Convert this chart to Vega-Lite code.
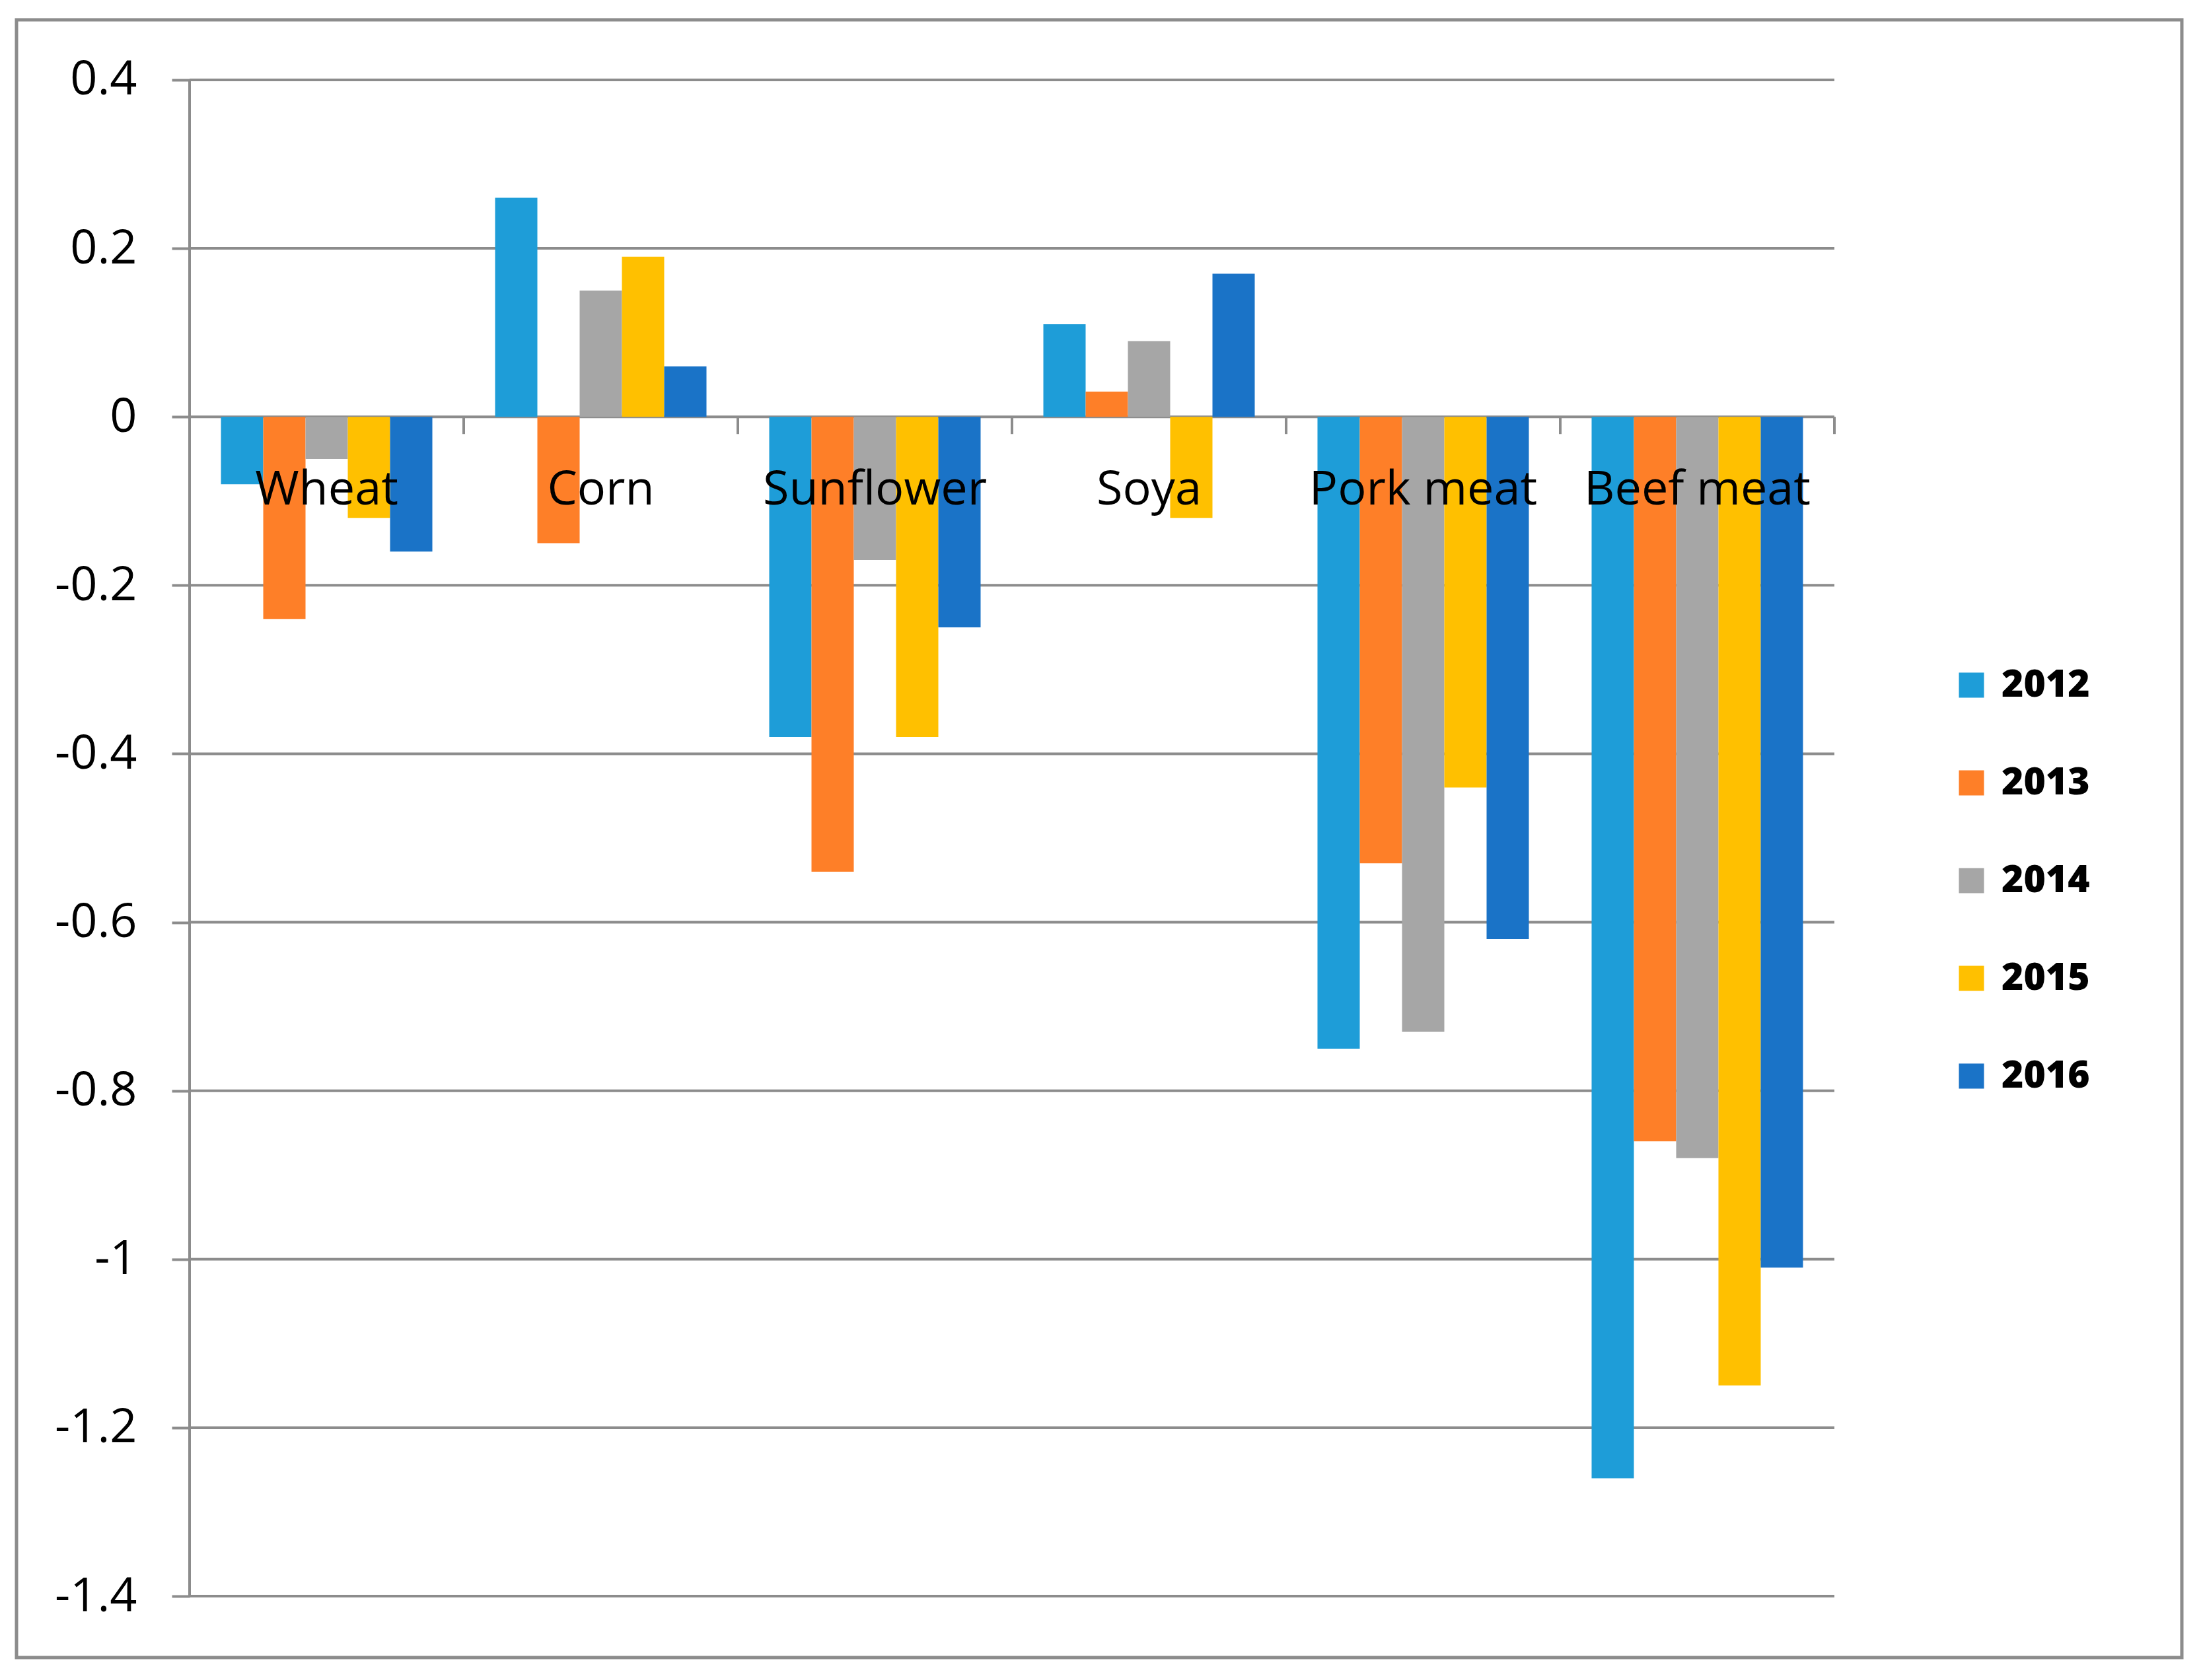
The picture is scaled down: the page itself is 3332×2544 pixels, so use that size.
{
  "$schema": "https://vega.github.io/schema/vega-lite/v6.json",
  "width": 3278,
  "height": 2480,
  "autosize": {"type": "none"},
  "padding": {"left": 25, "top": 30, "right": 29, "bottom": 34},
  "background": "white",
  "config": {
    "view": {"stroke": "#8c8c8c", "strokeWidth": 5},
    "font": "Open Sans"
  },
  "datasets": {
    "bars": [
      {"crop": "Wheat", "year": "2012", "value": -0.08},
      {"crop": "Wheat", "year": "2013", "value": -0.24},
      {"crop": "Wheat", "year": "2014", "value": -0.05},
      {"crop": "Wheat", "year": "2015", "value": -0.12},
      {"crop": "Wheat", "year": "2016", "value": -0.16},
      {"crop": "Corn", "year": "2012", "value": 0.26},
      {"crop": "Corn", "year": "2013", "value": -0.15},
      {"crop": "Corn", "year": "2014", "value": 0.15},
      {"crop": "Corn", "year": "2015", "value": 0.19},
      {"crop": "Corn", "year": "2016", "value": 0.06},
      {"crop": "Sunflower", "year": "2012", "value": -0.38},
      {"crop": "Sunflower", "year": "2013", "value": -0.54},
      {"crop": "Sunflower", "year": "2014", "value": -0.17},
      {"crop": "Sunflower", "year": "2015", "value": -0.38},
      {"crop": "Sunflower", "year": "2016", "value": -0.25},
      {"crop": "Soya", "year": "2012", "value": 0.11},
      {"crop": "Soya", "year": "2013", "value": 0.03},
      {"crop": "Soya", "year": "2014", "value": 0.09},
      {"crop": "Soya", "year": "2015", "value": -0.12},
      {"crop": "Soya", "year": "2016", "value": 0.17},
      {"crop": "Pork meat", "year": "2012", "value": -0.75},
      {"crop": "Pork meat", "year": "2013", "value": -0.53},
      {"crop": "Pork meat", "year": "2014", "value": -0.73},
      {"crop": "Pork meat", "year": "2015", "value": -0.44},
      {"crop": "Pork meat", "year": "2016", "value": -0.62},
      {"crop": "Beef meat", "year": "2012", "value": -1.26},
      {"crop": "Beef meat", "year": "2013", "value": -0.86},
      {"crop": "Beef meat", "year": "2014", "value": -0.88},
      {"crop": "Beef meat", "year": "2015", "value": -1.15},
      {"crop": "Beef meat", "year": "2016", "value": -1.01}
    ],
    "ticks": [
      {"value": 0.4}, {"value": 0.2}, {"value": 0}, {"value": -0.2}, {"value": -0.4},
      {"value": -0.6}, {"value": -0.8}, {"value": -1}, {"value": -1.2}, {"value": -1.4}
    ],
    "xticks": [
      {"u": 0.16667, "value": 0}, {"u": 0.33333, "value": 0}, {"u": 0.5, "value": 0},
      {"u": 0.66667, "value": 0}, {"u": 0.83333, "value": 0}, {"u": 1, "value": 0}
    ]
  },
  "encoding": {
    "y": {
      "field": "value", "type": "quantitative",
      "scale": {"domain": [-1.4729, 0.47134], "nice": false, "zero": false},
      "axis": {
        "orient": "left", "offset": -262, "title": null, "domain": false, "grid": false,
        "values": [0.4, 0.2, 0, -0.2, -0.4, -0.6, -0.8, -1, -1.2, -1.4],
        "labelExpr": "'' + datum.value",
        "tickSize": 27, "tickWidth": 4, "tickColor": "#8c8c8c",
        "labelPadding": 53, "labelFontSize": 72, "labelFont": "Open Sans",
        "labelColor": "black", "labelLimit": 0, "labelOverlap": false, "labelFlush": false
      }
    }
  },
  "layer": [
    {
      "data": {"name": "ticks"},
      "mark": {"type": "rule", "color": "#8c8c8c", "strokeWidth": 4},
      "encoding": {
        "x": {"datum": 0, "type": "quantitative", "axis": null,
              "scale": {"domain": [-0.10522, 1.21124], "nice": false, "zero": false}},
        "x2": {"datum": 1}
      }
    },
    {
      "data": {"name": "xticks"},
      "mark": {"type": "rule", "color": "#8c8c8c", "strokeWidth": 4},
      "encoding": {
        "x": {"field": "u", "type": "quantitative", "axis": null,
              "scale": {"domain": [-0.10522, 1.21124], "nice": false, "zero": false}},
        "y2": {"datum": -0.0204}
      }
    },
    {
      "data": {"name": "ticks"},
      "mark": {"type": "rule", "color": "#8c8c8c", "strokeWidth": 4},
      "encoding": {
        "y2": {"field": "value", "aggregate": "max"},
        "y": {
          "field": "value", "type": "quantitative", "aggregate": "min",
          "scale": {"domain": [-1.4729, 0.47134], "nice": false, "zero": false},
          "axis": {
            "orient": "left", "offset": -262, "title": null, "domain": false, "grid": false,
            "values": [0.4, 0.2, 0, -0.2, -0.4, -0.6, -0.8, -1, -1.2, -1.4],
            "labelExpr": "'' + datum.value",
            "tickSize": 27, "tickWidth": 4, "tickColor": "#8c8c8c",
            "labelPadding": 53, "labelFontSize": 72, "labelFont": "Open Sans",
            "labelColor": "black", "labelLimit": 0, "labelOverlap": false, "labelFlush": false
          }
        },
        "x": {"datum": 0, "type": "quantitative", "axis": null,
              "scale": {"domain": [-0.10522, 1.21124], "nice": false, "zero": false}}
      }
    },
    {
      "data": {"name": "bars"},
      "mark": {"type": "bar"},
      "encoding": {
        "x": {
          "field": "crop", "type": "nominal",
          "scale": {
            "domain": ["Wheat", "Corn", "Sunflower", "Soya", "Pork meat", "Beef meat", " "],
            "paddingInner": 0.2289, "paddingOuter": 0.5639, "align": 0.6613
          },
          "axis": {
            "orient": "bottom", "offset": -1878, "title": null, "domain": false,
            "values": ["Wheat", "Corn", "Sunflower", "Soya", "Pork meat", "Beef meat"],
            "tickSize": 26, "tickOpacity": 0,
            "labelPadding": 48, "labelFontSize": 72, "labelFont": "Open Sans",
            "labelColor": "black", "labelAngle": 0, "labelLimit": 0,
            "labelOverlap": false, "labelFlush": false, "zindex": 1
          }
        },
        "xOffset": {
          "field": "year", "type": "nominal",
          "scale": {"paddingInner": 0, "paddingOuter": 0}
        },
        "color": {
          "field": "year", "type": "nominal",
          "scale": {
            "domain": ["2012", "2013", "2014", "2015", "2016"],
            "range": ["#1E9DD8", "#FE7F28", "#A6A6A6", "#FFC000", "#1A73C7"]
          },
          "legend": {
            "orient": "none", "legendX": 2931, "legendY": 979, "title": null,
            "symbolType": "square", "symbolSize": 1444, "symbolStrokeWidth": 0,
            "labelFont": "Open Sans", "labelFontWeight": 800, "labelFontSize": 57,
            "labelColor": "black", "labelOffset": 17, "rowPadding": 90, "padding": 0
          }
        }
      }
    }
  ],
  "resolve": {"scale": {"x": "independent"}, "axis": {"x": "independent"}}
}
